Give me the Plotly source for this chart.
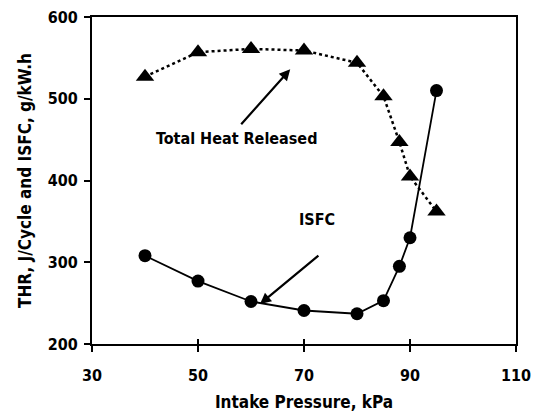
import plotly.graph_objects as go

pressure = [40, 50, 60, 70, 80, 85, 88, 90, 95]
thr = [527, 557, 561, 559, 544, 503, 447, 405, 362]
isfc = [308, 277, 252, 241, 237, 253, 295, 330, 510]

x_ticks = [30, 50, 70, 90, 110]
y_ticks = [200, 300, 400, 500, 600]

FONT = "DejaVu Sans Condensed"

fig = go.Figure()
fig.add_trace(go.Scatter(
    x=pressure, y=thr, mode="lines+markers",
    line=dict(color="black", width=2.5, dash="dot"),
    marker=dict(symbol="triangle-up", size=16, color="black"),
    showlegend=False))
fig.add_trace(go.Scatter(
    x=pressure, y=isfc, mode="lines+markers",
    line=dict(color="black", width=1.8),
    marker=dict(symbol="circle", size=13, color="black"),
    showlegend=False))
# invisible trace on xaxis2 for inside ticks
fig.add_trace(go.Scatter(x=[30], y=[200], xaxis="x2", yaxis="y2",
                         mode="markers", marker=dict(opacity=0),
                         showlegend=False, hoverinfo="skip"))

fig.add_annotation(x=57.3, y=451, text="Total Heat Released", showarrow=False,
                   font=dict(family=FONT, size=16, color="black", weight="bold"))
fig.add_annotation(x=67.4, y=536, ax=57.9, ay=467, xref="x", yref="y", axref="x", ayref="y",
                   text="", showarrow=True, arrowhead=2, arrowsize=1, arrowwidth=2.2,
                   arrowcolor="black")
fig.add_annotation(x=72.4, y=352, text="ISFC", showarrow=False,
                   font=dict(family=FONT, size=16, color="black", weight="bold"))
fig.add_annotation(x=61.7, y=249, ax=73.0, ay=309.5, xref="x", yref="y", axref="x", ayref="y",
                   text="", showarrow=True, arrowhead=2, arrowsize=1, arrowwidth=2.2,
                   arrowcolor="black")

axis_common = dict(showgrid=False, zeroline=False, showline=True, linecolor="black",
                   linewidth=2, mirror=True, ticks="outside", ticklen=6, tickwidth=1.5,
                   tickcolor="black", automargin=False,
                   tickfont=dict(family=FONT, size=16, color="black", weight="bold"))

fig.update_layout(
    width=534, height=416,
    margin=dict(l=92, r=18, t=17, b=72),
    paper_bgcolor="white", plot_bgcolor="white",
    xaxis=dict(range=[30, 110], tickvals=x_ticks, ticklabelstandoff=10,
               title=dict(text="Intake Pressure, kPa", standoff=12,
                          font=dict(family=FONT, size=17, color="black", weight="bold")),
               **axis_common),
    yaxis=dict(range=[200, 600], tickvals=y_ticks, ticklabelstandoff=3,
               title=dict(text="THR, J/Cycle and ISFC, g/kW.h", standoff=12,
                          font=dict(family=FONT, size=17, color="black", weight="bold")),
               **axis_common),
    xaxis2=dict(range=[30, 110], tickvals=x_ticks, overlaying="x",
                showticklabels=False, ticks="inside", ticklen=5, tickwidth=1.5,
                tickcolor="black", showgrid=False, zeroline=False, showline=False),
    yaxis2=dict(range=[200, 600], overlaying="y", visible=False),
)

fig.write_html("out.html")
